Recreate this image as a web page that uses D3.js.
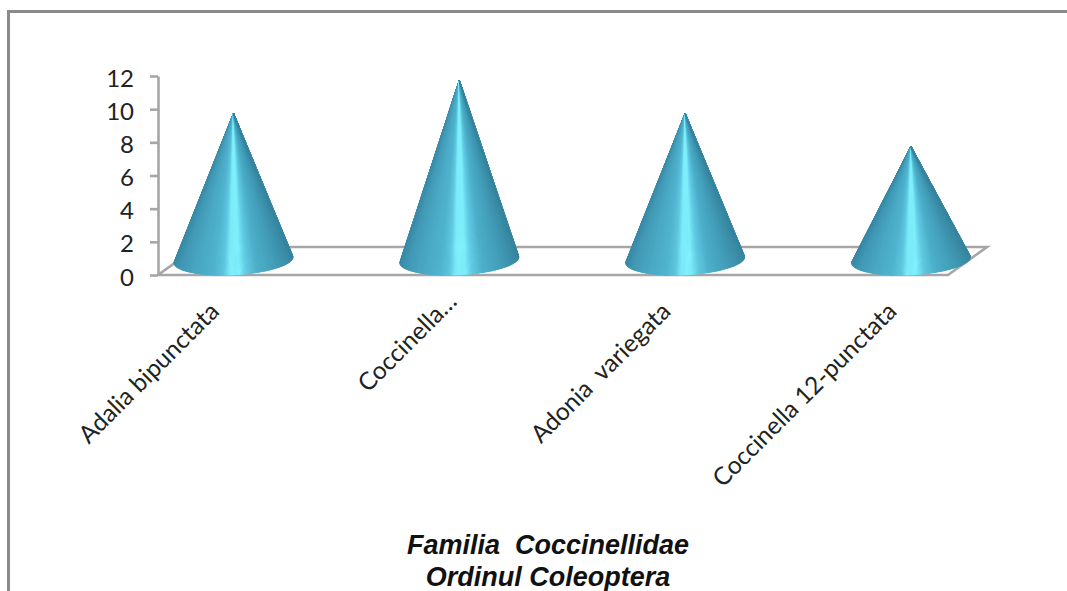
<!DOCTYPE html>
<html>
<head>
<meta charset="utf-8">
<script src="https://cdn.jsdelivr.net/npm/d3@7/dist/d3.min.js"></script>
<style>
  html, body { margin: 0; padding: 0; background: #fff; overflow: hidden; }
  svg { display: block; }
  text { white-space: pre; }
</style>
</head>
<body>
<svg id="chart" width="1067" height="591"></svg>
<script>
// Ladybird species counts, family Coccinellidae
const categories = ["Adalia bipunctata", "Coccinella…", "Adonia  variegata", "Coccinella 12-punctata"];
const counts = [10, 12, 10, 8];
const yTicks = [0, 2, 4, 6, 8, 10, 12];
const titleLines = ["Familia  Coccinellidae", "Ordinul Coleoptera"];

const svg = d3.select("#chart");
const axisColor = "#a6a6a6";

const y = d3.scaleLinear().domain([0, 12]).range([275, 76]);
const x = d3.scalePoint().domain(categories).range([233.5, 911]);

// Outer frame, open at the right and bottom
svg.append("path")
  .attr("d", "M8.5,591V11.5H1067")
  .attr("fill", "none")
  .attr("stroke", "#8a8a8a")
  .attr("stroke-width", 3);

// Floor parallelogram
const floor = { left: 158, right: 948, depthX: 39, depthY: -28, base: y(0) };
const floorPath = d3.path();
floorPath.moveTo(floor.left, floor.base);
floorPath.lineTo(floor.right, floor.base);
floorPath.lineTo(floor.right + floor.depthX, floor.base + floor.depthY);
floorPath.lineTo(floor.left + floor.depthX, floor.base + floor.depthY);
floorPath.closePath();
svg.append("path")
  .attr("d", floorPath.toString())
  .attr("fill", "none")
  .attr("stroke", axisColor)
  .attr("stroke-width", 2.6);

// Value axis
const axis = d3.axisLeft(y).tickValues(yTicks).tickSize(8).tickPadding(16).tickSizeOuter(0);
const axisG = svg.append("g").attr("transform", `translate(${floor.left},0)`).call(axis);
axisG.select(".domain").attr("stroke", axisColor).attr("stroke-width", 2.6);
axisG.selectAll(".tick line").attr("stroke", axisColor).attr("stroke-width", 2.6);
axisG.selectAll(".tick text")
  .attr("font-family", "Lato, sans-serif")
  .attr("font-size", 24)
  .attr("fill", "#222")
  .attr("dy", "0.42em");

// Cone surface colour by position across the base (0 = left rim, 1 = right rim)
const shade = d3.scaleLinear()
  .domain([0, 0.06, 0.2, 0.34, 0.42, 0.47, 0.55, 0.61, 0.7, 0.84, 0.95, 1])
  .range(["#3a8ba6", "#4299b5", "#4ba9c4", "#52b5cf", "#5fc8df", "#80eefc", "#82f1fe", "#62cde4", "#4fb1cb", "#459fba", "#3d8fa9", "#3a87a1"])
  .clamp(true);

const cone = { rx: 59.5, ry: 15, baseY: 260, tilt: -3 * Math.PI / 180, apexDrop: 4, slices: 170, wrap: 0.033 };

function rimPoint(cx, t) {
  const a = Math.PI * (1 - t);
  const ex = cone.rx * Math.cos(a);
  const ey = cone.ry * Math.sin(a);
  return [
    cx + ex * Math.cos(cone.tilt) - ey * Math.sin(cone.tilt),
    cone.baseY + ex * Math.sin(cone.tilt) + ey * Math.cos(cone.tilt)
  ];
}

// Each cone is a fan of thin facets running from the apex to the front rim;
// the rim wraps slightly past its widest points so the silhouette stays round
categories.forEach((name, i) => {
  const cx = x(name);
  const apex = [cx, y(counts[i]) + cone.apexDrop];
  const g = svg.append("g").attr("class", "cone");
  const steps = d3.range(cone.slices);
  const rimT = s => -cone.wrap + (1 + 2 * cone.wrap) * s / cone.slices;
  const colour = s => {
    // x position across the base sets the highlight, as on a lit cylinder
    const p = rimPoint(cx, rimT(s + 0.5));
    return shade((p[0] - (cx - cone.rx)) / (2 * cone.rx));
  };

  // Solid silhouette underneath so floor lines never show between facets
  const outline = d3.path();
  outline.moveTo(apex[0], apex[1]);
  d3.range(cone.slices + 1).forEach(s => {
    const p = rimPoint(cx, rimT(s));
    outline.lineTo(p[0], p[1]);
  });
  outline.closePath();
  g.append("path").attr("d", outline.toString()).attr("fill", "#4aa8c5");

  g.selectAll("path.facet")
    .data(steps)
    .join("path")
    .attr("class", "facet")
    .attr("d", s => {
      const p0 = rimPoint(cx, rimT(s));
      const p1 = rimPoint(cx, rimT(s + 1));
      const p = d3.path();
      p.moveTo(apex[0], apex[1]);
      p.lineTo(p0[0], p0[1]);
      p.lineTo(p1[0], p1[1]);
      p.closePath();
      return p.toString();
    })
    .attr("fill", colour)
    .attr("stroke", colour)
    .attr("stroke-width", 0.5);
});

// Category labels, rotated 45 degrees; a truncated label sits closer to its cone's axis
const truncated = d => d.endsWith("…");
svg.append("g").selectAll("text")
  .data(categories)
  .join("text")
  .attr("transform", d => truncated(d)
    ? `translate(${x(d) - 1},${303}) rotate(-45)`
    : `translate(${x(d) - 13},${313}) rotate(-45)`)
  .attr("text-anchor", "end")
  .attr("font-family", "Lato, sans-serif")
  .attr("font-size", 24.5)
  .attr("fill", "#222")
  .text(d => d);

// Two-line title below the plot
svg.append("g").selectAll("text")
  .data(titleLines)
  .join("text")
  .attr("x", 548)
  .attr("y", (d, i) => 554 + i * 32)
  .attr("text-anchor", "middle")
  .attr("font-family", "Liberation Sans, Arial, sans-serif")
  .attr("font-weight", "bold")
  .attr("font-style", "italic")
  .attr("font-size", 27)
  .attr("fill", "#111")
  .text(d => d);
</script>
</body>
</html>
